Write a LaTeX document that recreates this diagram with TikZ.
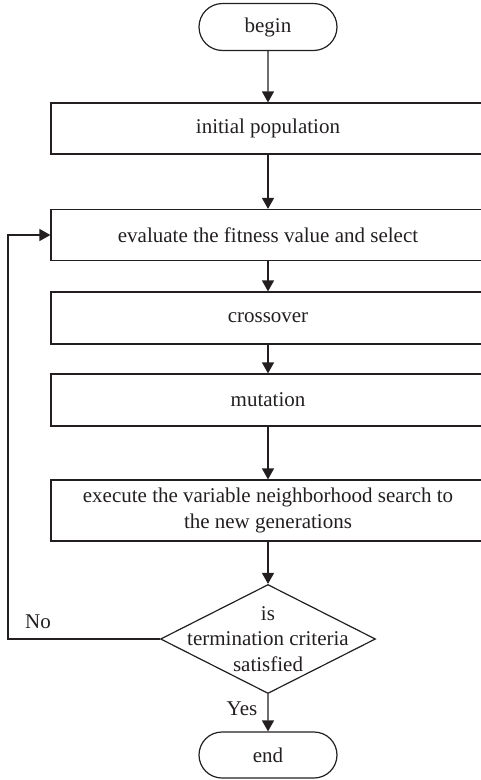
\documentclass[tikz,border=0pt]{standalone}
\usepackage{fontspec}
\setmainfont{Liberation Serif}
\usetikzlibrary{shapes.geometric,shapes.misc,arrows.meta}
\definecolor{ink}{HTML}{231F20}
\tikzset{
  base/.style={draw=ink, line width=1.2pt, text=ink, font=\fontsize{21}{25.5}\selectfont, inner sep=0pt},
  term/.style={base, rounded rectangle, minimum width=138pt, minimum height=47pt},
  proc/.style={base, rectangle, minimum width=434pt, align=center},
  dec/.style={base, diamond, minimum width=215pt, minimum height=109pt},
  lab/.style={text=ink, font=\fontsize{21}{25.5}\selectfont, inner sep=0pt, align=center},
  conn/.style={draw=ink, line width=1.2pt, -{Triangle[width=12pt,length=11pt]}},
  line/.style={draw=ink, line width=1.2pt}
}
\begin{document}
\begin{tikzpicture}[x=1pt,y=-1pt]
\useasboundingbox (0,0) rectangle (481,780);
\node[term] (begin) at (268,27) {begin};
\node[proc, minimum height=51pt] (init) at (268,128.5) {initial population};
\node[proc, minimum height=51pt] (eval) at (268,235) {evaluate the fitness value and select};
\node[proc, minimum height=52pt] (cross) at (268,318) {crossover};
\node[proc, minimum height=52pt] (mut) at (268,400) {mutation};
\node[proc, minimum height=61pt] (vns) at (268,510.5) {execute the variable neighborhood search to\\the new generations};
\node[dec] (dia) at (268,639) {};
\node[lab] (diatext) at (268,639) {is\\termination criteria\\satisfied};
\node[term, minimum height=46pt] (end) at (268,755) {end};
\coordinate (c1) at (8,639);
\coordinate (c2) at (8,235);
\node[lab, anchor=center] (no) at (38,622) {No};
\node[lab, anchor=center] (yes) at (242,709) {Yes};
\draw[conn] (begin) -- (init);
\draw[conn] (init) -- (eval);
\draw[conn] (eval) -- (cross);
\draw[conn] (cross) -- (mut);
\draw[conn] (mut) -- (vns);
\draw[conn] (vns) -- (dia.north);
\draw[conn] (dia.south) -- (end);
\draw[conn] (dia.west) -- (c1) -- (c2) -- (eval.west);
\end{tikzpicture}
\end{document}
